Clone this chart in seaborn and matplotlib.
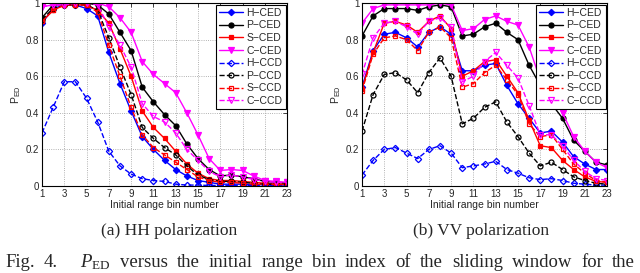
import matplotlib
matplotlib.use('Agg')
import matplotlib.pyplot as plt
import pandas as pd
import seaborn as sns

# Initial range bin numbers
bins = list(range(1, 24))
series_names = ['H\u2212CED', 'P\u2212CED', 'S\u2212CED', 'C\u2212CED',
                'H\u2212CCD', 'P\u2212CCD', 'S\u2212CCD', 'C\u2212CCD']

# (a) HH polarization
hh_h_ced = [0.89, 0.97, 0.99, 0.99, 0.97, 0.93, 0.73, 0.56, 0.41, 0.27, 0.20, 0.14, 0.09, 0.055, 0.03, 0.02, 0.01, 0.01, 0.01, 0.008, 0.006, 0.005, 0.005]
hh_p_ced = [0.92, 0.99, 0.99, 1.00, 1.00, 0.99, 0.94, 0.84, 0.74, 0.54, 0.46, 0.39, 0.33, 0.23, 0.15, 0.09, 0.055, 0.06, 0.05, 0.04, 0.025, 0.02, 0.015]
hh_s_ced = [0.90, 0.96, 0.99, 0.99, 0.99, 0.96, 0.89, 0.75, 0.60, 0.41, 0.32, 0.26, 0.19, 0.12, 0.07, 0.04, 0.03, 0.03, 0.025, 0.02, 0.015, 0.01, 0.01]
hh_c_ced = [0.98, 0.99, 0.99, 1.00, 1.00, 1.00, 0.98, 0.92, 0.84, 0.68, 0.61, 0.56, 0.51, 0.40, 0.28, 0.15, 0.085, 0.09, 0.085, 0.055, 0.03, 0.025, 0.02]
hh_h_ccd = [0.29, 0.43, 0.57, 0.57, 0.48, 0.35, 0.19, 0.11, 0.065, 0.04, 0.03, 0.025, 0.01, 0.005, 0.005, 0.003, 0.003, 0.003, 0.003, 0.003, 0.003, 0.003, 0.003]
hh_p_ccd = [0.91, 0.97, 0.99, 0.99, 0.99, 0.96, 0.81, 0.65, 0.50, 0.32, 0.26, 0.21, 0.17, 0.11, 0.06, 0.035, 0.025, 0.025, 0.02, 0.015, 0.01, 0.01, 0.01]
hh_s_ccd = [0.90, 0.96, 0.99, 0.99, 0.99, 0.95, 0.77, 0.60, 0.43, 0.28, 0.21, 0.17, 0.13, 0.09, 0.05, 0.03, 0.02, 0.02, 0.015, 0.01, 0.01, 0.008, 0.008]
hh_c_ccd = [0.98, 0.99, 0.99, 1.00, 1.00, 0.99, 0.87, 0.77, 0.65, 0.45, 0.38, 0.35, 0.29, 0.20, 0.14, 0.08, 0.05, 0.06, 0.05, 0.035, 0.025, 0.02, 0.02]

# (b) VV polarization
vv_h_ced = [0.54, 0.74, 0.83, 0.84, 0.81, 0.76, 0.84, 0.87, 0.83, 0.63, 0.63, 0.66, 0.67, 0.55, 0.45, 0.37, 0.29, 0.30, 0.24, 0.16, 0.12, 0.09, 0.09]
vv_p_ced = [0.82, 0.93, 0.97, 0.97, 0.97, 0.96, 0.98, 0.99, 0.98, 0.82, 0.83, 0.87, 0.89, 0.84, 0.80, 0.66, 0.55, 0.45, 0.37, 0.25, 0.19, 0.13, 0.115]
vv_s_ced = [0.53, 0.73, 0.89, 0.90, 0.88, 0.84, 0.90, 0.93, 0.86, 0.60, 0.63, 0.68, 0.69, 0.60, 0.51, 0.36, 0.22, 0.21, 0.14, 0.09, 0.05, 0.025, 0.02]
vv_c_ced = [0.89, 0.97, 0.99, 0.99, 0.99, 0.99, 0.99, 1.00, 0.99, 0.85, 0.86, 0.91, 0.93, 0.90, 0.88, 0.76, 0.58, 0.50, 0.40, 0.27, 0.19, 0.13, 0.10]
vv_h_ccd = [0.06, 0.14, 0.20, 0.21, 0.18, 0.15, 0.20, 0.22, 0.18, 0.10, 0.11, 0.12, 0.135, 0.09, 0.07, 0.045, 0.035, 0.04, 0.03, 0.015, 0.01, 0.005, 0.005]
vv_p_ccd = [0.30, 0.50, 0.61, 0.62, 0.58, 0.51, 0.62, 0.70, 0.60, 0.34, 0.37, 0.43, 0.46, 0.35, 0.27, 0.18, 0.11, 0.13, 0.09, 0.05, 0.03, 0.015, 0.01]
vv_s_ccd = [0.52, 0.72, 0.81, 0.82, 0.80, 0.74, 0.84, 0.87, 0.81, 0.54, 0.56, 0.62, 0.66, 0.58, 0.50, 0.34, 0.27, 0.28, 0.20, 0.12, 0.07, 0.03, 0.02]
vv_c_ccd = [0.61, 0.81, 0.89, 0.90, 0.87, 0.83, 0.90, 0.92, 0.87, 0.57, 0.60, 0.68, 0.73, 0.66, 0.59, 0.44, 0.28, 0.28, 0.22, 0.14, 0.08, 0.04, 0.03]

hh = [hh_h_ced, hh_p_ced, hh_s_ced, hh_c_ced, hh_h_ccd, hh_p_ccd, hh_s_ccd, hh_c_ccd]
vv = [vv_h_ced, vv_p_ced, vv_s_ced, vv_c_ced, vv_h_ccd, vv_p_ccd, vv_s_ccd, vv_c_ccd]

caption_words = ['Fig.', '4.', '', r'$P_{\rm ED}$', 'versus', 'the', 'initial', 'range', 'bin',
                 'index', 'of', 'the', 'sliding', 'window', 'for', 'the']

colors = ['#0000ff', '#000000', '#ff0000', '#ff00ff'] * 2
markers = ['D', 'o', 's', 'v'] * 2
msizes = [3.2, 3.6, 3.4, 4.5] * 2

sns.set_style('white')
plt.rcParams['font.family'] = ['Liberation Sans', 'DejaVu Sans']
plt.rcParams['mathtext.fontset'] = 'custom'
plt.rcParams['mathtext.rm'] = 'Liberation Serif'
plt.rcParams['mathtext.it'] = 'Liberation Serif:italic'
plt.rcParams['mathtext.sf'] = 'Liberation Sans'


def draw_panel(ax, data):
    rows = []
    for name, vals in zip(series_names, data):
        for b, v in zip(bins, vals):
            rows.append({'bin': b, 'value': v, 'series': name})
    df = pd.DataFrame(rows)
    for i, name in enumerate(series_names):
        sub = df[df.series == name]
        dashed = name.endswith('CCD')
        sns.lineplot(data=sub, x='bin', y='value', ax=ax, color=colors[i],
                     marker=markers[i], markersize=msizes[i], linewidth=1.0,
                     linestyle='--' if dashed else '-',
                     markerfacecolor='none' if dashed else colors[i],
                     markeredgecolor=colors[i], markeredgewidth=0.9,
                     label=name)
    ax.set_xlim(1, 23)
    ax.set_ylim(0, 1)
    ax.set_xticks(range(1, 24, 2))
    ax.set_yticks([0, 0.2, 0.4, 0.6, 0.8, 1])
    ax.set_yticklabels(['0', '0.2', '0.4', '0.6', '0.8', '1'])
    ax.tick_params(direction='in', length=3, labelsize=7, pad=2,
                   top=True, right=True, width=0.6)
    ax.grid(True, linestyle=':', color='#999999', linewidth=0.6)
    for s in ax.spines.values():
        s.set_color('black')
        s.set_linewidth(0.8)
    ax.set_xlabel('Initial range bin number', fontsize=7.5, labelpad=1)
    ax.set_ylabel(r'P$_{\mathsf{ED}}$', fontsize=7.5, labelpad=2)
    leg = ax.legend(loc='upper right', fontsize=7.5, handlelength=2.3,
                    handletextpad=0.3, labelspacing=0.25, borderpad=0.3,
                    borderaxespad=0.15, frameon=True, fancybox=False,
                    edgecolor='black', framealpha=1)
    leg.get_frame().set_linewidth(0.8)


fig = plt.figure(figsize=(6.4, 2.73), dpi=100)
ax1 = fig.add_axes([0.0656, 0.3187, 0.383, 0.670])
ax2 = fig.add_axes([0.5656, 0.3187, 0.383, 0.670])
draw_panel(ax1, hh)
draw_panel(ax2, vv)

fig.text(0.264, 0.139, '(a) HH polarization', family='Liberation Serif',
         fontsize=12.5, ha='center', va='baseline')
fig.text(0.752, 0.139, '(b) VV polarization', family='Liberation Serif',
         fontsize=12.5, ha='center', va='baseline')

# justified caption line running across the full width
renderer = fig.canvas.get_renderer()
word_texts = []
for w in caption_words:
    t = fig.text(0, 0.022, w if w else ' ', family='Liberation Serif',
                 fontsize=13.5, ha='left', va='baseline')
    word_texts.append(t)
widths = [t.get_window_extent(renderer).width for t in word_texts]
left_px, right_px = 5, 635
gap = (right_px - left_px - sum(widths)) / (len(widths) - 1)
x = left_px
for t, w in zip(word_texts, widths):
    t.set_x(x / fig.bbox.width)
    x += w + gap

fig.savefig('out.png', dpi=100)
